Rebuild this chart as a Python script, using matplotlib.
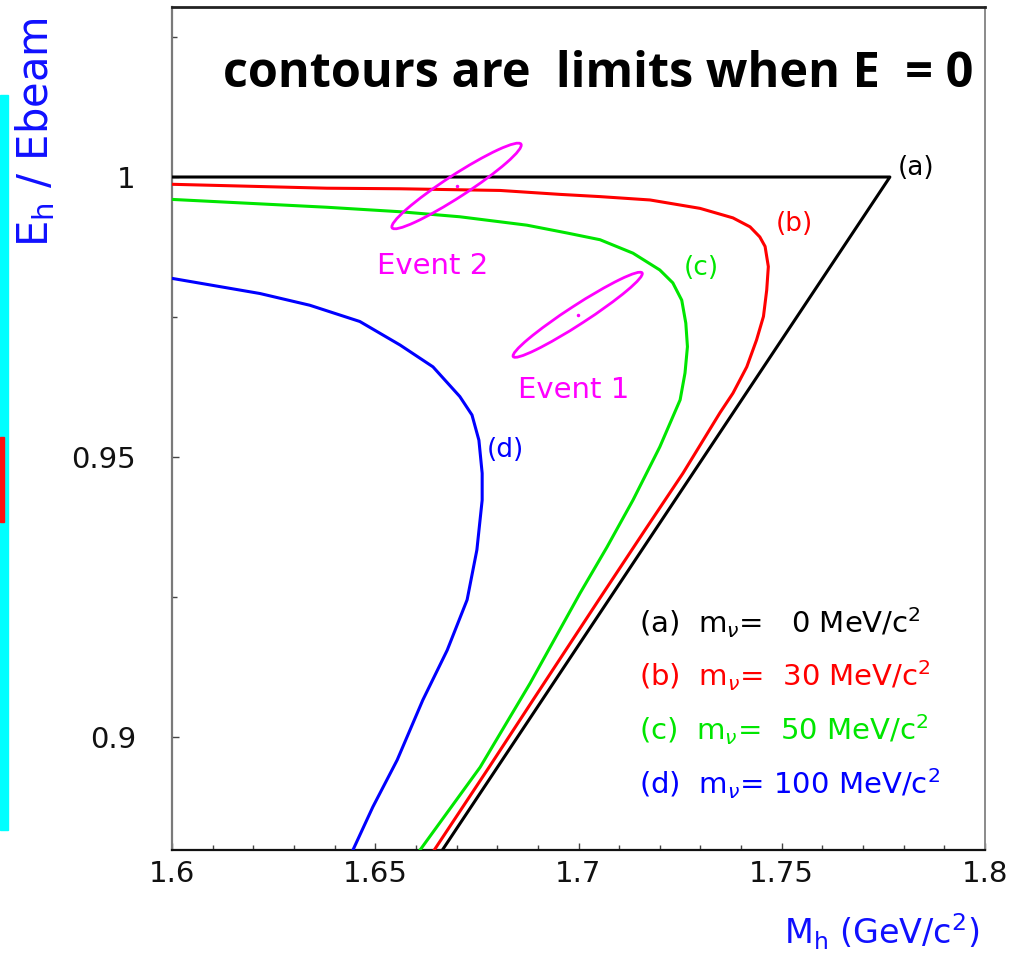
"""
E_h/Ebeam vs M_h kinematic limits for several neutrino masses, with two events.
Output: out.png (1028x960)
"""

import matplotlib

matplotlib.use("Agg")

import matplotlib.pyplot as plt
from matplotlib.patches import Ellipse, Rectangle
from matplotlib.ticker import FuncFormatter, MultipleLocator
from matplotlib.transforms import Affine2D

FIG_W_PX = 1028
FIG_H_PX = 960
DPI = 100

# axes box in figure pixels (left, right, top, bottom)
AX_L_PX, AX_R_PX, AX_T_PX, AX_B_PX = 172, 985, 7, 850

XLIM = (1.6, 1.8)
YLIM = (0.87982, 1.03036)

# ---- data ----
CURVE_A_X = [1.6000, 1.7766, 1.6665]
CURVE_A_Y = [1.0000, 1.0000, 0.8798]

CURVE_B_X = [1.6000, 1.6381, 1.6561, 1.6807, 1.6954, 1.7053, 1.7176, 1.7299,
             1.7380, 1.7422, 1.7446, 1.7459, 1.7467, 1.7463, 1.7455, 1.7438,
             1.7414, 1.7380, 1.7348, 1.7257, 1.7164, 1.7050, 1.6888, 1.6780,
             1.6645]
CURVE_B_Y = [0.9987, 0.9980, 0.9979, 0.9976, 0.9969, 0.9965, 0.9959, 0.9944,
             0.9927, 0.9911, 0.9893, 0.9876, 0.9840, 0.9798, 0.9751, 0.9709,
             0.9661, 0.9614, 0.9579, 0.9471, 0.9370, 0.9245, 0.9066, 0.8946,
             0.8798]

CURVE_C_X = [1.6000, 1.6381, 1.6561, 1.6708, 1.6873, 1.6972, 1.7053, 1.7134,
             1.7200, 1.7232, 1.7254, 1.7264, 1.7268, 1.7262, 1.7250, 1.7200,
             1.7134, 1.7070, 1.7004, 1.6881, 1.6758, 1.6610]
CURVE_C_Y = [0.9960, 0.9946, 0.9938, 0.9929, 0.9914, 0.9900, 0.9888, 0.9864,
             0.9834, 0.9811, 0.9780, 0.9739, 0.9697, 0.9650, 0.9602, 0.9518,
             0.9423, 0.9339, 0.9257, 0.9096, 0.8946, 0.8798]

CURVE_D_X = [1.6000, 1.6216, 1.6339, 1.6462, 1.6561, 1.6642, 1.6708, 1.6738,
             1.6755, 1.6763, 1.6763, 1.6750, 1.6726, 1.6677, 1.6617, 1.6554,
             1.6494, 1.6445]
CURVE_D_Y = [0.9819, 0.9792, 0.9771, 0.9742, 0.9700, 0.9661, 0.9608, 0.9575,
             0.9530, 0.9471, 0.9423, 0.9334, 0.9245, 0.9155, 0.9066, 0.8959,
             0.8875, 0.8798]

CURVE_TAGS = ["(a)", "(b)", "(c)", "(d)"]
CURVE_TAG_X = [1.7830, 1.7530, 1.7301, 1.6819]
CURVE_TAG_Y = [1.0016, 0.9916, 0.9838, 0.9512]

LEGEND_LINES = [
    r"(a)  m$_\nu$=   0 MeV/c$^2$",
    r"(b)  m$_\nu$=  30 MeV/c$^2$",
    r"(c)  m$_\nu$=  50 MeV/c$^2$",
    r"(d)  m$_\nu$= 100 MeV/c$^2$",
]
LEGEND_X = 1.7149
LEGEND_Y = [0.9205, 0.9109, 0.9013, 0.8917]

# events: centre, error ellipse semi-axes (GeV-equivalent) and tilt (deg)
EVENT_NAMES = ["Event 1", "Event 2"]
EVENT_X = [1.6998, 1.6700]
EVENT_Y = [0.9754, 0.9984]
EVENT_SEMI_MAJOR = [0.0189, 0.0189]
EVENT_SEMI_MINOR = [0.0023, 0.0027]
EVENT_ANGLE = [33.0, 33.0]
EVENT_LABEL_X = [1.6988, 1.6641]
EVENT_LABEL_Y = [0.9620, 0.9841]

TITLE = "contours are  limits when E  = 0"
XLABEL = r"M$_\mathrm{h}$ (GeV/c$^2$)"
YLABEL = r"E$_\mathrm{h}$ / Ebeam"

COLORS = ["#000000", "#ff0000", "#00e600", "#0000ff"]
MAGENTA = "#ff00ff"
LABEL_BLUE = "#1010ff"


def fx(px):
    return px / FIG_W_PX


def fy(py):
    return 1.0 - py / FIG_H_PX


def main():
    fig = plt.figure(figsize=(FIG_W_PX / DPI, FIG_H_PX / DPI), dpi=DPI)
    ax = fig.add_axes([fx(AX_L_PX), fy(AX_B_PX),
                       (AX_R_PX - AX_L_PX) / FIG_W_PX,
                       (AX_B_PX - AX_T_PX) / FIG_H_PX])
    ax.set_xlim(*XLIM)
    ax.set_ylim(*YLIM)

    curves = [(CURVE_A_X, CURVE_A_Y), (CURVE_B_X, CURVE_B_Y),
              (CURVE_C_X, CURVE_C_Y), (CURVE_D_X, CURVE_D_Y)]
    for (xs, ys), c in zip(curves, COLORS):
        ax.plot(xs, ys, color=c, lw=2.2, solid_joinstyle="round", zorder=3)

    for tag, tx, ty, c in zip(CURVE_TAGS, CURVE_TAG_X, CURVE_TAG_Y, COLORS):
        ax.text(tx, ty, tag, color=c, fontsize=19, ha="center", va="center")

    # ellipses drawn in an isotropic frame, then squeezed to data-y
    ax_w = AX_R_PX - AX_L_PX
    ax_h = AX_B_PX - AX_T_PX
    ratio = ((YLIM[1] - YLIM[0]) / ax_h) / ((XLIM[1] - XLIM[0]) / ax_w)
    for i in range(len(EVENT_NAMES)):
        tr = Affine2D().scale(1.0, ratio).translate(EVENT_X[i], EVENT_Y[i]) + ax.transData
        ell = Ellipse((0, 0), 2 * EVENT_SEMI_MAJOR[i], 2 * EVENT_SEMI_MINOR[i],
                      angle=EVENT_ANGLE[i], facecolor="none", edgecolor=MAGENTA,
                      lw=2.0, transform=tr, zorder=4)
        ax.add_patch(ell)
        ax.plot([EVENT_X[i]], [EVENT_Y[i]], marker=".", ms=3, color=MAGENTA, zorder=4)
        ax.text(EVENT_LABEL_X[i], EVENT_LABEL_Y[i], EVENT_NAMES[i], color=MAGENTA,
                fontsize=21, ha="center", va="center")

    for line, ly, c in zip(LEGEND_LINES, LEGEND_Y, COLORS):
        ax.text(LEGEND_X, ly, line, color=c, fontsize=21, ha="left", va="center")

    # axes styling
    ax.spines["left"].set_color("#7a7a7a")
    ax.spines["left"].set_linewidth(1.6)
    ax.spines["bottom"].set_color("#111111")
    ax.spines["bottom"].set_linewidth(1.6)
    ax.spines["top"].set_color("#222222")
    ax.spines["top"].set_linewidth(2.0)
    ax.spines["right"].set_color("#8a8a8a")
    ax.spines["right"].set_linewidth(1.4)

    ax.xaxis.set_major_locator(MultipleLocator(0.05))
    ax.xaxis.set_minor_locator(MultipleLocator(0.01))
    ax.yaxis.set_major_locator(MultipleLocator(0.05))
    ax.yaxis.set_minor_locator(MultipleLocator(0.025))
    fmt = FuncFormatter(lambda v, _: f"{v:g}")
    ax.xaxis.set_major_formatter(fmt)
    ax.yaxis.set_major_formatter(fmt)
    ax.tick_params(which="both", direction="in", top=False, right=False,
                   color="#444444", width=1.0)
    ax.tick_params(which="major", length=5)
    ax.tick_params(which="minor", length=3.5)
    ax.tick_params(axis="x", labelsize=21, pad=7, labelcolor="#111111")
    ax.tick_params(axis="y", labelsize=21, pad=26, labelcolor="#111111")

    fig.text(fx(980), fy(932), XLABEL, color=LABEL_BLUE, fontsize=24,
             ha="right", va="center")
    fig.text(fx(35), fy(132), YLABEL, color=LABEL_BLUE, fontsize=30,
             rotation=90, ha="center", va="center")

    fig.text(fx(223), fy(87), TITLE, fontsize=35, fontweight="bold",
             family=["Open Sans", "DejaVu Sans"], ha="left", va="baseline")

    # cropped coloured strip on the left edge
    fig.patches.append(Rectangle((0, fy(830)), fx(8), (830 - 95) / FIG_H_PX,
                                 transform=fig.transFigure, color="#00ffff",
                                 zorder=0))
    fig.patches.append(Rectangle((0, fy(522)), fx(4), (522 - 437) / FIG_H_PX,
                                 transform=fig.transFigure, color="#ff1010",
                                 zorder=1))

    fig.savefig("out.png", dpi=DPI)
    plt.close(fig)


if __name__ == "__main__":
    main()
